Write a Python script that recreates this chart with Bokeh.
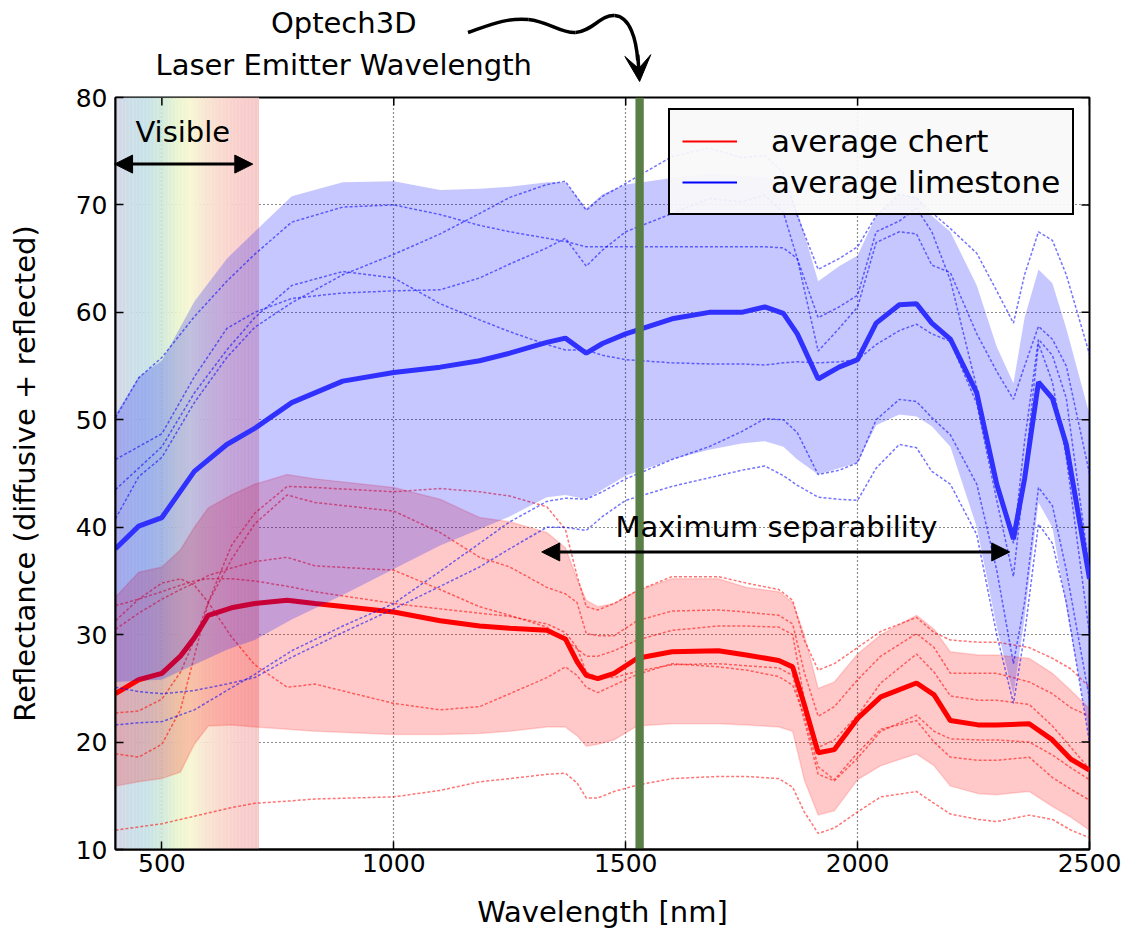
import numpy as np
from bokeh.plotting import figure
from bokeh.layouts import column
from bokeh.models import (Range1d, FixedTicker, Legend, LegendItem, Arrow, VeeHead, NormalHead, Label)
from bokeh.embed import file_html
from bokeh.resources import INLINE

FONT = "DejaVu Sans"

# ---------------- data ----------------
x_ticks = [500, 1000, 1500, 2000, 2500]
y_ticks = [10, 20, 30, 40, 50, 60, 70, 80]

laser_nm = 1530          # Optech3D laser emitter wavelength
visible_nm = [400, 710]  # visible range shading

# limestone (blue)
bw = [400, 450, 500, 570, 640, 700, 780, 890, 1000, 1100, 1185, 1250, 1330, 1370, 1415, 1450,
      1500, 1600, 1680, 1750, 1800, 1840, 1870, 1915, 1960, 2000, 2040, 2090, 2127, 2160, 2200,
      2257, 2300, 2336, 2360, 2390, 2420, 2450, 2500]
lime_mean = [38.0, 40.1, 40.9, 45.2, 47.7, 49.2, 51.6, 53.6, 54.4, 54.9, 55.5, 56.2, 57.2, 57.6, 56.2, 57.1,
             58.0, 59.4, 60.0, 60.0, 60.5, 59.9, 58.0, 53.8, 54.9, 55.6, 59.0, 60.7, 60.8, 59.0, 57.5,
             52.5, 44.0, 38.9, 44.5, 53.5, 52.0, 47.7, 35.2]
lime_hi = [50.5, 54.0, 55.5, 61.0, 65.0, 67.5, 70.8, 72.1, 72.2, 71.4, 71.5, 71.7, 72.1, 72.1, 69.7, 71.0,
           71.9, 72.5, 72.9, 72.7, 72.6, 72.0, 69.5, 62.9, 64.3, 65.3, 69.0, 70.9, 70.8, 69.0, 67.5,
           62.5, 56.8, 53.4, 59.5, 64.0, 62.7, 58.5, 50.5]
lime_lo = [25.6, 25.7, 25.8, 27.2, 28.6, 29.5, 31.4, 33.7, 36.1, 38.3, 39.8, 41.0, 42.8, 43.0, 42.6, 43.5,
           44.8, 46.3, 47.2, 47.8, 48.0, 47.5, 46.3, 44.9, 45.5, 46.0, 49.5, 50.5, 50.3, 49.4, 47.5,
           40.0, 30.7, 24.4, 31.5, 42.3, 40.0, 32.5, 20.5]
lime_s1 = [40.8, 44.7, 46.5, 51.6, 55.8, 58.6, 60.9, 63.5, 65.4, 67.3, 69.2, 70.7, 71.9, 72.2, 69.5, 70.8,
           72.0, 74.5, 75.3, 74.4, 74.6, 73.0, 69.0, 64.0, 65.0, 66.1, 69.0, 71.0, 70.6, 69.3, 67.8,
           65.5, 62.0, 59.0, 63.5, 67.5, 66.7, 63.5, 56.1]
lime_s2 = [50.2, 53.9, 55.8, 59.6, 62.9, 65.4, 68.4, 69.8, 70.0, 69.1, 68.1, 67.5, 66.9, 66.6, 66.1, 66.1,
           66.1, 66.1, 66.1, 66.1, 66.1, 66.0, 65.0, 56.4, 58.5, 60.5, 66.5, 67.5, 67.3, 64.4, 63.7,
           58.0, 54.5, 51.9, 55.0, 58.7, 57.5, 55.0, 45.0]
lime_s3 = [46.3, 47.5, 48.7, 54.0, 58.5, 60.0, 61.3, 61.8, 62.0, 62.1, 63.2, 64.5, 66.0, 66.9, 64.3, 65.8,
           67.5, 69.2, 70.6, 70.3, 70.9, 69.3, 65.0, 59.5, 60.5, 61.6, 67.5, 68.5, 69.7, 67.5, 63.0,
           53.0, 44.0, 38.5, 48.0, 57.5, 56.0, 52.0, 36.0]
lime_s4 = [43.5, 45.5, 47.5, 52.5, 56.5, 59.5, 62.5, 63.8, 63.2, 60.8, 59.3, 58.2, 57.0, 56.5, 56.5, 56.0,
           55.6, 55.3, 55.2, 55.2, 55.1, 55.3, 55.4, 55.3, 55.4, 55.6, 57.0, 58.3, 58.9, 58.0, 57.3,
           51.5, 42.5, 35.4, 45.0, 57.1, 53.5, 46.5, 30.0]
lime_s5 = [21.6, 21.8, 21.9, 23.0, 24.8, 26.3, 28.5, 30.8, 32.9, 35.9, 38.5, 40.5, 42.4, 42.7, 42.6, 43.3,
           44.5, 46.3, 47.5, 48.9, 50.1, 50.0, 48.8, 44.9, 45.3, 46.0, 50.0, 51.9, 51.7, 50.2, 48.6,
           44.0, 36.0, 27.3, 33.0, 43.7, 42.0, 36.0, 24.0]
lime_s6 = [25.1, 24.7, 24.5, 24.8, 25.4, 26.0, 27.9, 30.2, 32.4, 34.5, 36.3, 38.0, 40.0, 40.0, 39.7, 41.0,
           42.5, 43.8, 44.6, 45.3, 45.7, 44.8, 43.9, 42.8, 42.6, 42.5, 45.5, 47.7, 47.4, 45.2, 44.0,
           39.3, 30.0, 23.6, 30.0, 40.3, 38.5, 33.0, 20.0]

# chert (red)
rw = [400, 450, 500, 540, 570, 600, 650, 700, 770, 830, 1000, 1100, 1185, 1250, 1330, 1370, 1395, 1415,
      1440, 1475, 1525, 1600, 1700, 1760, 1830, 1860, 1885, 1915, 1950, 2000, 2050, 2127, 2165, 2200,
      2260, 2300, 2370, 2420, 2460, 2500]
chert_mean = [24.5, 25.8, 26.4, 28.0, 29.7, 31.8, 32.5, 32.9, 33.2, 32.9, 32.1, 31.3, 30.8, 30.6, 30.4, 29.6,
              27.5, 26.2, 25.9, 26.4, 27.8, 28.4, 28.5, 28.1, 27.6, 27.0, 23.5, 19.0, 19.3, 22.2, 24.2,
              25.5, 24.4, 22.0, 21.6, 21.6, 21.7, 20.2, 18.4, 17.4]
chert_hi = [33.5, 35.8, 36.3, 37.9, 40.0, 41.8, 43.0, 44.0, 44.9, 44.5, 43.7, 42.6, 40.9, 40.5, 39.5, 38.1,
            35.2, 33.2, 32.6, 32.9, 34.1, 35.2, 35.2, 34.4, 34.0, 33.0, 30.0, 25.0, 25.6, 28.2, 30.0,
            31.8, 30.5, 28.4, 28.1, 28.1, 27.8, 26.4, 24.8, 23.1]
chert_lo = [15.9, 16.3, 16.6, 17.2, 19.8, 21.5, 21.6, 21.4, 21.2, 21.0, 20.7, 20.7, 20.8, 21.0, 21.4, 21.4,
            20.6, 19.6, 19.8, 20.2, 21.5, 21.7, 21.7, 21.6, 21.4, 21.0, 16.5, 13.2, 13.6, 16.5, 17.8,
            18.9, 17.8, 15.9, 15.2, 15.1, 15.4, 14.0, 13.0, 11.8]
chert_s1 = [18.9, 18.6, 19.8, 23.0, 28.0, 33.0, 38.3, 41.3, 43.8, 43.7, 43.3, 43.6, 43.3, 42.9, 41.9, 39.8,
            35.5, 32.6, 32.3, 32.9, 34.1, 35.4, 35.4, 34.8, 34.2, 33.2, 29.5, 26.7, 27.3, 28.8, 30.3,
            31.6, 30.2, 29.5, 29.3, 29.3, 28.8, 27.8, 26.8, 25.1]
chert_s2 = [22.7, 22.9, 24.0, 26.5, 29.5, 33.0, 37.0, 40.3, 43.0, 42.3, 41.5, 39.5, 37.2, 36.3, 34.4, 33.8,
            33.0, 30.1, 29.9, 29.9, 31.3, 32.2, 32.3, 32.1, 31.8, 31.0, 26.5, 22.4, 23.3, 25.8, 28.0,
            30.1, 28.8, 26.4, 26.4, 26.4, 25.6, 24.5, 23.2, 22.4]
chert_s3 = [30.5, 32.0, 33.3, 34.2, 34.8, 35.5, 36.2, 36.8, 37.2, 36.4, 36.0, 34.2, 32.6, 31.8, 30.7, 29.5,
            28.7, 28.0, 28.0, 28.5, 29.5, 30.4, 30.8, 30.8, 30.7, 30.0, 24.0, 19.5, 20.2, 22.5, 25.5,
            28.2, 26.5, 24.3, 23.9, 23.9, 23.5, 21.5, 19.5, 17.5]
chert_s4 = [32.7, 33.3, 34.0, 34.6, 35.0, 35.2, 35.2, 35.0, 34.5, 34.0, 32.9, 32.4, 32.0, 31.7, 31.0, 30.2,
            28.8, 26.5, 26.0, 26.0, 26.6, 27.2, 27.3, 27.1, 26.9, 26.2, 22.0, 17.0, 16.4, 18.5, 21.0,
            22.5, 21.0, 20.3, 20.2, 20.2, 20.0, 18.8, 17.6, 16.5]
chert_s5 = [31.3, 33.3, 34.8, 35.2, 34.6, 33.0, 29.8, 27.2, 25.1, 25.4, 23.6, 23.0, 23.3, 24.5, 26.0, 27.0,
            26.2, 25.1, 24.6, 25.3, 26.3, 27.3, 27.0, 26.7, 26.1, 25.3, 22.5, 17.7, 16.5, 19.0, 21.2,
            22.0, 20.0, 18.6, 18.3, 18.3, 18.6, 16.7, 15.6, 14.6]
chert_s6 = [11.8, 12.1, 12.4, 12.8, 13.1, 13.4, 13.9, 14.3, 14.5, 14.7, 14.9, 15.5, 16.3, 16.6, 17.0, 17.1,
            16.2, 14.8, 14.8, 15.4, 16.0, 16.6, 16.8, 16.8, 16.6, 15.8, 13.5, 11.5, 12.0, 13.5, 14.9,
            15.4, 14.3, 13.3, 12.8, 12.6, 13.2, 12.8, 11.8, 11.1]

# rainbow shading of the visible range (display colours)
grad_nm = [400, 430, 465, 500, 530, 560, 590, 620, 660, 710]
grad_rgb = [(212, 214, 230), (204, 222, 232), (200, 226, 232), (210, 234, 220), (232, 244, 208),
            (247, 247, 210), (248, 232, 210), (250, 220, 208), (250, 208, 205), (246, 200, 200)]

# ---------------- layout constants ----------------
FRAME_W, FRAME_H = 974, 752
TICK_PX = 8
TOP_H = 82

x_range = Range1d(400, 2500)

# ---------------- top annotation strip ----------------
top = figure(width=1128, height=TOP_H, x_range=x_range, y_range=Range1d(TOP_H, 0),
             toolbar_location=None, output_backend="svg", min_border=0,
             min_border_left=115, min_border_right=39,
             x_axis_location=None, y_axis_location=None, outline_line_color=None)
top.grid.visible = False
top.add_layout(Label(x=892, y=22.5, text="Optech3D", text_align="center", text_baseline="middle",
                     text_font=FONT, text_font_size="29px", text_color="black"))
top.add_layout(Label(x=892, y=64.5, text="Laser Emitter Wavelength", text_align="center",
                     text_baseline="middle", text_font=FONT, text_font_size="29px", text_color="black"))
top.bezier(x0=[1160, 1290, 1392, 1476], y0=[32, 19, 32, 15],
           x1=[1290, 1392, 1476, 1526], y1=[19, 32, 15, 60],
           cx0=[1210, 1334, 1428, 1510], cy0=[24, 21, 31, 16],
           cx1=[1245, 1360, 1446, 1523], cy1=[17, 33, 14, 40],
           line_color="black", line_width=3.5)
top.add_layout(Arrow(end=VeeHead(size=26, fill_color="black", line_color="black"),
                     x_start=1526, y_start=54, x_end=laser_nm, y_end=81,
                     line_color="black", line_width=3.5))

# ---------------- main plot ----------------
p = figure(width=1128, height=934 - TOP_H, x_range=x_range, y_range=Range1d(10, 80),
           toolbar_location=None, output_backend="svg",
           min_border_left=115, min_border_right=39, min_border_top=97 - TOP_H, min_border_bottom=85)
p.background_fill_color = "white"
p.outline_line_color = "black"
p.outline_line_width = 2

# visible gradient
edges = np.arange(visible_nm[0], visible_nm[1] + 1, 3)
mids = (edges[:-1] + edges[1:]) / 2
cols = []
for m in mids:
    r = np.interp(m, grad_nm, [c[0] for c in grad_rgb])
    g = np.interp(m, grad_nm, [c[1] for c in grad_rgb])
    b = np.interp(m, grad_nm, [c[2] for c in grad_rgb])
    cols.append("#%02x%02x%02x" % (int(r), int(g), int(b)))
p.quad(left=edges[:-1], right=edges[1:] + 0.5, bottom=10, top=80, fill_color=cols, line_color=None)

# chert
p.varea(x=rw, y1=chert_lo, y2=chert_hi, fill_color="red", fill_alpha=0.21)
p.line(rw, chert_hi, line_color="red", line_alpha=0.15, line_width=1.5)
p.line(rw, chert_lo, line_color="red", line_alpha=0.15, line_width=1.5)
p.multi_line(xs=[rw] * 6, ys=[chert_s1, chert_s2, chert_s3, chert_s4, chert_s5, chert_s6],
             line_color="red", line_alpha=0.55, line_width=1.5, line_dash="3 2")
lr = p.line(rw, chert_mean, line_color="red", line_width=2)
p.line(rw, chert_mean, line_color="red", line_width=5)

# limestone
p.varea(x=bw, y1=lime_lo, y2=lime_hi, fill_color="blue", fill_alpha=0.22)
p.multi_line(xs=[bw] * 6, ys=[lime_s1, lime_s2, lime_s3, lime_s4, lime_s5, lime_s6],
             line_color="blue", line_alpha=0.55, line_width=1.5, line_dash="3 2")
lb = p.line(bw, lime_mean, line_color="blue", line_width=2)
p.line(bw, lime_mean, line_color="#3030ff", line_width=5)

# laser wavelength band
p.quad(left=[laser_nm - 9], right=[laser_nm + 9], bottom=[10], top=[80],
       fill_color="#5a7f46", line_color=None)

# ticks on top and right edges (inward, like the bottom/left ones)
dx = TICK_PX * 2100 / FRAME_W
dy = TICK_PX * 70 / FRAME_H
p.segment(x0=x_ticks, y0=[80] * len(x_ticks), x1=x_ticks, y1=[80 - dy] * len(x_ticks),
          line_color="black", line_width=1.5)
p.segment(x0=[2500] * len(y_ticks), y0=y_ticks, x1=[2500 - dx] * len(y_ticks), y1=y_ticks,
          line_color="black", line_width=1.5)

# legend
legend = Legend(items=[LegendItem(label="average chert", renderers=[lr]),
                       LegendItem(label="average limestone", renderers=[lb])],
                location=(553, 634), label_text_font=FONT, label_text_font_size="31px",
                label_text_color="black",
                padding=12, glyph_width=55, glyph_height=38, label_height=38, label_standoff=34,
                spacing=3, margin=0, border_line_color="black", border_line_width=2,
                border_line_alpha=1.0,
                background_fill_color="#f8f8fa", background_fill_alpha=0.92)
p.add_layout(legend)

# annotations
def head():
    return NormalHead(size=18, fill_color="black", line_color="black")

p.add_layout(Arrow(start=head(), end=head(),
                   x_start=398, y_start=73.8, x_end=696, y_end=73.8, line_width=3))
p.add_layout(Label(x=545, y=76.8, text="Visible", text_align="center", text_baseline="middle",
                   text_font=FONT, text_font_size="29px", text_color="black"))
p.add_layout(Arrow(start=head(), end=head(),
                   x_start=1319, y_start=37.7, x_end=2328, y_end=37.7, line_width=3))
p.add_layout(Label(x=1825, y=40.0, text="Maximum separability", text_align="center",
                   text_baseline="middle", text_font=FONT, text_font_size="29px",
                   text_color="black"))

# axes
for ax in (p.xaxis[0], p.yaxis[0]):
    ax.major_tick_in = TICK_PX
    ax.major_tick_out = 0
    ax.minor_tick_line_color = None
    ax.axis_line_width = 2
    ax.major_tick_line_width = 1.5
    ax.major_label_text_font = FONT
    ax.major_label_text_font_size = "25px"
    ax.major_label_text_color = "black"
    ax.axis_label_text_font = FONT
    ax.axis_label_text_font_size = "29px"
    ax.axis_label_text_font_style = "normal"
    ax.axis_label_text_color = "black"
p.xaxis.ticker = FixedTicker(ticks=x_ticks)
p.yaxis.ticker = FixedTicker(ticks=y_ticks)
p.xaxis.axis_label = "Wavelength [nm]"
p.yaxis.axis_label = "Reflectance (diffusive + reflected)"
p.xaxis.major_label_standoff = 4
p.yaxis.major_label_standoff = 8
p.xaxis.axis_label_standoff = 20
p.yaxis.axis_label_standoff = 31

p.xgrid.ticker = FixedTicker(ticks=x_ticks)
p.ygrid.ticker = FixedTicker(ticks=y_ticks)
p.grid.grid_line_color = "black"
p.grid.grid_line_dash = "1 3"
p.grid.grid_line_width = 1.2
p.grid.grid_line_alpha = 0.9

layout = column(top, p, spacing=0)
open("out.html", "w").write(file_html(layout, INLINE))
